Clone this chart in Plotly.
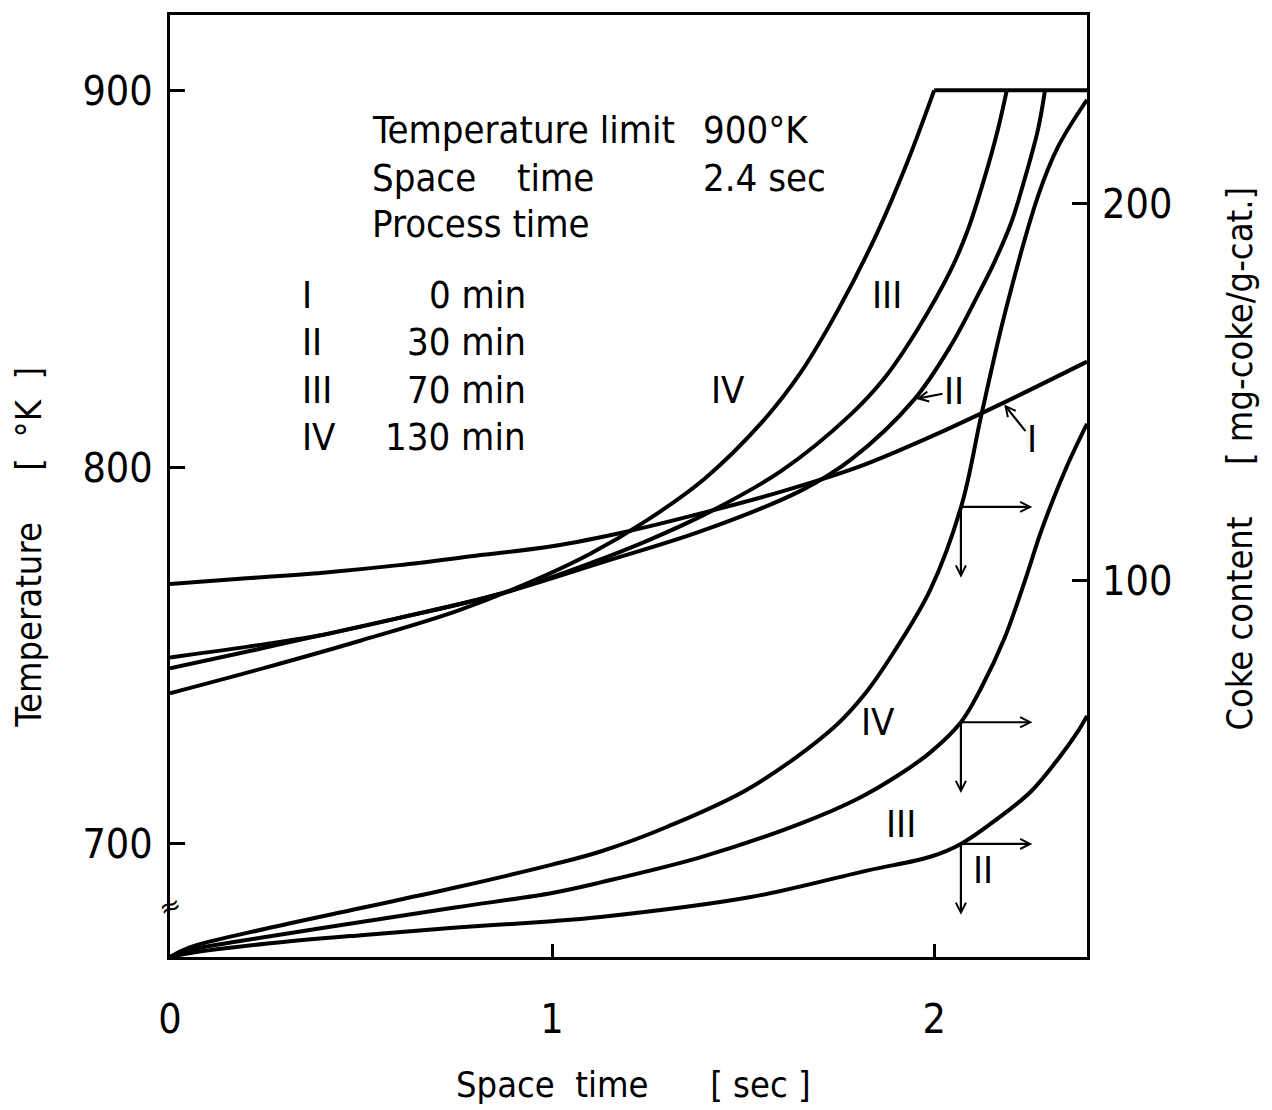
import numpy as np
import plotly.graph_objects as go

# ---------------- data ----------------
# Temperature profiles [K] vs space time [sec]  (left axis)
st_I = [0, 0.2, 0.4, 0.6, 0.8, 1.0, 1.2, 1.4, 1.6, 1.8, 2.0, 2.2, 2.4]
temp_I = [769, 770.5, 772, 774, 776.5, 779, 783, 788, 793.5, 800, 808.5, 818, 828]

st_II = [0, 0.2, 0.39, 0.6, 0.865, 1.127, 1.39, 1.65, 1.782, 1.948, 2.045,
         2.115, 2.158, 2.202, 2.237, 2.272, 2.29]
temp_II = [749.5, 752.3, 755.3, 760, 766.4, 774.6, 783, 793.7, 802, 818, 832.5,
           845.8, 854.5, 865, 876.5, 889.7, 900]

st_III = [0, 0.2, 0.39, 0.6, 0.865, 1.1, 1.25, 1.41, 1.6, 1.782, 1.869, 1.958,
          2.045, 2.089, 2.131, 2.167, 2.19]
temp_III = [746.6, 751, 755.3, 760, 766.4, 774.5, 780.5, 788, 799, 814, 823.5, 836.8,
            852.6, 863.2, 876.5, 889.7, 900]

st_IV = [0, 0.25, 0.5, 0.75, 0.95, 1.1, 1.25, 1.4, 1.55, 1.65, 1.75, 1.85, 1.93, 2.0]
temp_IV = [740, 746.8, 754, 761.8, 769.8, 777, 786, 797, 812, 825, 842, 862, 881, 900]

T_LIMIT = 900
limit_st = [2.0, 2.4]

# Coke content [mg-coke/g-cat.] vs space time  (right axis)
st_cIV = [0, 0.05, 0.25, 0.5, 0.75, 1.0, 1.127, 1.3, 1.52, 1.738, 1.82, 1.895, 1.99,
          2.072, 2.123, 2.184, 2.272, 2.324, 2.4]
coke_IV = [0, 2.5, 7.5, 13, 18.5, 24.5, 28, 34.5, 45, 61, 70, 81, 97.5,
           120, 143.6, 170.4, 202, 215, 227.5]

st_cIII = [0, 0.05, 0.25, 0.5, 0.75, 1.0, 1.127, 1.39, 1.65, 1.8, 1.913, 1.99, 2.07,
           2.123, 2.184, 2.237, 2.28, 2.342, 2.4]
coke_III = [0, 1.8, 5.3, 9.3, 13.2, 17, 19.8, 26.5, 35.4, 42, 48.7, 54.3, 62.3,
            71.4, 84.6, 99.7, 113, 129, 141.5]

st_cII = [0, 0.05, 0.25, 0.5, 0.75, 1.0, 1.127, 1.52, 1.827, 1.99, 2.07, 2.167,
          2.254, 2.324, 2.377, 2.4]
coke_II = [0, 1, 3.5, 5.8, 7.8, 9.5, 10.6, 15.9, 23, 26.6, 30, 36.8,
           44, 52.5, 60, 64]

x_ticks = [0, 1, 2]
temp_ticks = [700, 800, 900]
coke_ticks = [100, 200]

legend_numerals = ["I", "II", "III", "IV"]
legend_minutes = ["0 min", "30 min", "70 min", "130 min"]

# ---------------- figure ----------------
FONT = "DejaVu Sans Condensed, Liberation Sans Narrow, sans-serif"
line_style = dict(color="black", width=4, shape="spline", smoothing=1.0)

fig = go.Figure()
for xs, ys, name in [(st_I, temp_I, "T I"), (st_II, temp_II, "T II"),
                     (st_III, temp_III, "T III"), (st_IV, temp_IV, "T IV")]:
    fig.add_trace(go.Scatter(x=xs, y=ys, mode="lines", line=line_style, name=name,
                             showlegend=False, hoverinfo="skip"))
fig.add_trace(go.Scatter(x=limit_st, y=[T_LIMIT] * len(limit_st), mode="lines",
                         line=dict(color="black", width=4), showlegend=False, hoverinfo="skip"))
for xs, ys, name in [(st_cII, coke_II, "C II"), (st_cIII, coke_III, "C III"),
                     (st_cIV, coke_IV, "C IV")]:
    fig.add_trace(go.Scatter(x=xs, y=ys, mode="lines", line=line_style, name=name,
                             yaxis="y2", showlegend=False, hoverinfo="skip"))

ann = []
TXT = dict(family=FONT, size=38, color="black")

# info block
ann += [
    dict(x=0.524, y=889.5, text="Temperature limit", xanchor="left"),
    dict(x=1.39, y=889.5, text="900°K", xanchor="left"),
    dict(x=0.524, y=876.7, text="Space", xanchor="left"),
    dict(x=0.904, y=876.7, text="time", xanchor="left"),
    dict(x=1.39, y=876.7, text="2.4 sec", xanchor="left"),
    dict(x=0.524, y=864.5, text="Process time", xanchor="left"),
]
rows_y = [845.8, 833.1, 820.6, 807.9]
for num, mins, yy in zip(legend_numerals, legend_minutes, rows_y):
    ann.append(dict(x=0.341, y=yy, text=num, xanchor="left"))
    ann.append(dict(x=0.936, y=yy, text=mins, xanchor="right"))

# curve labels
ann += [
    dict(x=1.877, y=845.8, text="III"),
    dict(x=1.46, y=820.6, text="IV"),
    dict(x=1.853, y=62.3, text="IV", yref="y2"),
    dict(x=1.913, y=35.4, text="III", yref="y2"),
    dict(x=2.128, y=23, text="II", yref="y2"),
]
for a in ann:
    a.setdefault("xref", "x")
    a.setdefault("yref", "y")
    a.setdefault("xanchor", "center")
    a["yanchor"] = "middle"
    a["showarrow"] = False
    a["font"] = TXT

ARROW = dict(showarrow=True, arrowhead=5, arrowsize=0.9, arrowwidth=2.2,
             arrowcolor="black")

# labels with arrows pointing at the temperature curves
x_II_pt = 1.948
x_I_pt = 2.18
ann.append(dict(x=x_II_pt, y=float(np.interp(x_II_pt, st_II, temp_II)), xref="x", yref="y",
                ax=2.052, ay=820.1, axref="x", ayref="y", text="II", font=TXT,
                standoff=2, **ARROW))
ann.append(dict(x=x_I_pt, y=float(np.interp(x_I_pt, st_I, temp_I)), xref="x", yref="y",
                ax=2.256, ay=807.4, axref="x", ayref="y", text="I", font=TXT,
                standoff=2, **ARROW))

# right / down arrows from the coke curves
x_arrow = 2.07
x_arrow_end = 2.257
drop = 18.8
for xs, ys in [(st_cIV, coke_IV), (st_cIII, coke_III), (st_cII, coke_II)]:
    yv = float(np.interp(x_arrow, xs, ys))
    ann.append(dict(x=x_arrow_end, y=yv, xref="x", yref="y2", ax=x_arrow, ay=yv,
                    axref="x", ayref="y2", text="", **ARROW))
    ann.append(dict(x=x_arrow, y=yv - drop, xref="x", yref="y2", ax=x_arrow, ay=yv,
                    axref="x", ayref="y2", text="", **ARROW))

# axis break mark
ann.append(dict(x=0, y=683.5, xref="x", yref="y", text="≈", showarrow=False,
                xanchor="center", yanchor="middle",
                font=dict(family="DejaVu Sans", size=26, color="black"), textangle=-20))

# axis titles
TITLE = dict(family=FONT, size=36, color="black")
ann.append(dict(x=-0.1545, y=(957 - 546) / 945, xref="paper", yref="paper", textangle=-90,
                xanchor="center", yanchor="middle",
                text="Temperature\u00a0\u00a0\u00a0\u00a0\u00a0[\u00a0\u00a0°K\u00a0\u00a0]",
                showarrow=False, font=TITLE))
ann.append(dict(x=(1240 - 170) / 917, y=(957 - 457) / 945, xref="paper", yref="paper",
                textangle=-90, xanchor="center", yanchor="middle",
                text="Coke content\u00a0\u00a0\u00a0\u00a0\u00a0[\u00a0mg-coke/g-cat.]",
                showarrow=False, font=TITLE))
ann.append(dict(x=(633 - 170) / 917, y=-(1085 - 957) / 945, xref="paper", yref="paper",
                xanchor="center", yanchor="middle",
                text="Space\u00a0\u00a0time\u00a0\u00a0\u00a0\u00a0\u00a0\u00a0[\u00a0sec\u00a0]",
                showarrow=False, font=TITLE))

axis_common = dict(showgrid=False, zeroline=False, ticks="inside", tickwidth=3,
                   tickcolor="black", tickfont=dict(family=FONT, size=41, color="black"))

fig.update_layout(
    width=1272, height=1110,
    margin=dict(l=170, r=185, t=12, b=153),
    paper_bgcolor="white", plot_bgcolor="white",
    showlegend=False,
    xaxis=dict(range=[0, 2.4], tickvals=x_ticks, ticklen=13, showline=True,
               linecolor="black", linewidth=3, mirror=True, ticklabelstandoff=24,
               **axis_common),
    yaxis=dict(range=[670, 920], tickvals=temp_ticks, ticklen=15, showline=True,
               linecolor="black", linewidth=3, mirror=True, ticklabelstandoff=6,
               **axis_common),
    yaxis2=dict(range=[0, 250], tickvals=coke_ticks, ticklen=15, overlaying="y",
                side="right", showline=False, ticklabelstandoff=14, **axis_common),
    annotations=ann,
)

fig.write_html("out.html")
